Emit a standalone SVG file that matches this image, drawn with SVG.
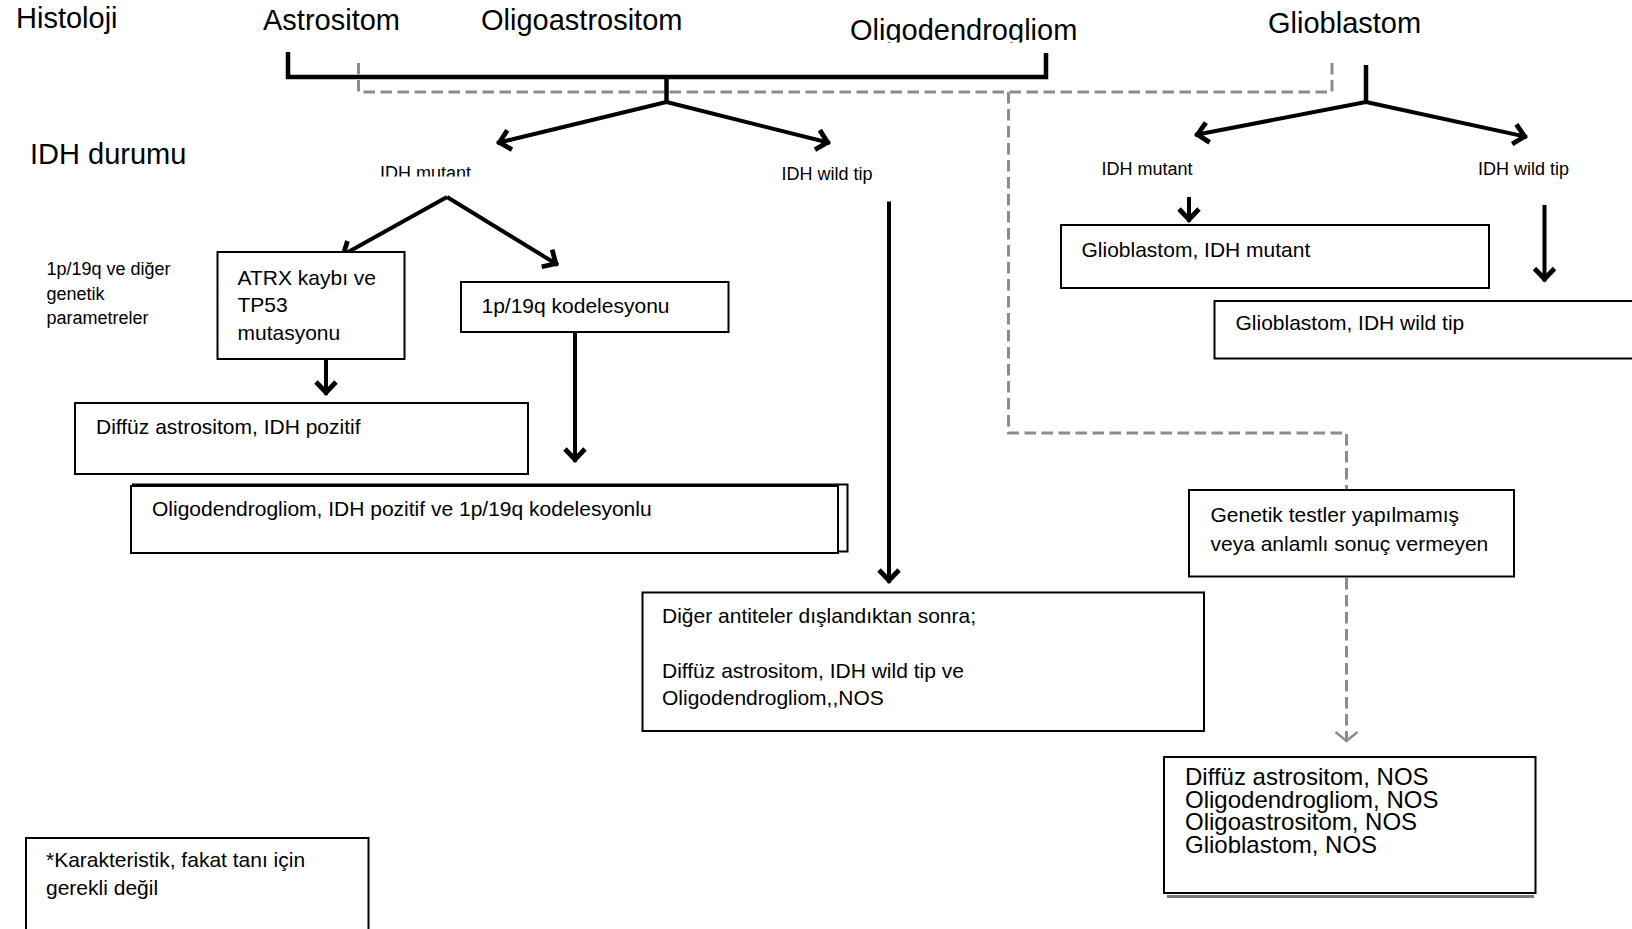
<svg xmlns="http://www.w3.org/2000/svg" width="1632" height="929" viewBox="0 0 1632 929">
<style>
text{font-family:"Liberation Sans",Arial,sans-serif;fill:#000}
.h{font-size:29px}
.s{font-size:18px}
.b{font-size:21px}
.n{font-size:24px}
.box{fill:#fff;stroke:#000;stroke-width:2}
.solid{fill:none;stroke:#000;stroke-width:4.5;stroke-linejoin:miter}
.arr{fill:none;stroke:#000;stroke-width:4;marker-end:url(#ah)}
.dash{fill:none;stroke:#8c8c8c;stroke-width:3;stroke-dasharray:11.5 5.5}
</style>
<defs>
<marker id="ah" viewBox="-16 -14 18 28" refX="0" refY="0" markerWidth="18" markerHeight="28" markerUnits="userSpaceOnUse" orient="auto">
<path d="M-13,-10 L-2.5,0 L-13,10" fill="none" stroke="#000" stroke-width="4.8"/>
</marker>
<marker id="gh" viewBox="-14 -13 16 26" refX="0" refY="0" markerWidth="16" markerHeight="26" markerUnits="userSpaceOnUse" orient="auto">
<path d="M-10,-11 L-1,0 L-10,11" fill="none" stroke="#8c8c8c" stroke-width="2.5"/>
</marker>
<clipPath id="cOli"><rect x="800" y="0" width="320" height="42.5"/></clipPath>
<clipPath id="cMut"><rect x="360" y="150" width="140" height="26.5"/></clipPath>
</defs>

<g id="labels">
<text class="h" x="16" y="28">Histoloji</text>
<text class="h" x="263" y="30">Astrositom</text>
<text class="h" x="481" y="30">Oligoastrositom</text>
<text class="h" x="850" y="40" clip-path="url(#cOli)">Oligodendrogliom</text>
<text class="h" x="1268" y="32.5">Glioblastom</text>
<text class="h" x="30" y="164">IDH durumu</text>
<text class="s" x="380" y="178.5" font-size="18.5" clip-path="url(#cMut)">IDH mutant</text>
<text class="s" x="781.5" y="180">IDH wild tip</text>
<text class="s" x="1101.5" y="175">IDH mutant</text>
<text class="s" x="1478" y="175">IDH wild tip</text>
<text class="s" x="46.5" y="275" font-size="18.5">1p/19q ve diğer</text>
<text class="s" x="46.5" y="300" font-size="18.5">genetik</text>
<text class="s" x="46.5" y="324" font-size="18.5">parametreler</text>
</g>

<g id="connectors">
<path class="solid" d="M288,52 L288,77 L1046,77 L1046,53"/>
<path class="solid" d="M666.5,77 L666.5,102"/>
<path class="arr" d="M666.5,102 L497,143"/>
<path class="arr" d="M666.5,102 L830,143"/>
<path class="solid" d="M1366,65 L1366,102"/>
<path class="arr" d="M1366,102 L1195,135"/>
<path class="arr" d="M1366,102 L1527,137"/>
<path class="arr" d="M447,197 L341,256"/>
<path class="arr" d="M447,197 L558,265"/>
<path class="arr" d="M326,359 L326,395"/>
<path class="arr" d="M575,332 L575,462"/>
<path class="arr" d="M889,201.5 L889,583"/>
<path class="arr" d="M1189,197 L1189,222"/>
<path class="arr" d="M1544.5,205 L1544.5,281.5"/>
<path class="dash" d="M358.5,63 L358.5,92 L1332,92 L1332,63"/>
<path class="dash" d="M1008.5,92 L1008.5,433 L1346.5,433 L1346.5,490"/>
<path class="dash" d="M1346.5,578 L1346.5,742" marker-end="url(#gh)"/>
</g>

<g id="atrx">
<rect class="box" x="217.5" y="252" width="187" height="107"/>
<text class="b" x="237.5" y="284.5">ATRX kaybı ve</text>
<text class="b" x="237.5" y="312">TP53</text>
<text class="b" x="237.5" y="339.5">mutasyonu</text>
</g>

<g id="kodelesyon">
<rect class="box" x="461" y="282" width="267.5" height="50"/>
<text class="b" x="481.5" y="313">1p/19q kodelesyonu</text>
</g>

<g id="diffuz-pozitif">
<rect class="box" x="75" y="403" width="453" height="71"/>
<text class="b" x="96" y="434">Diffüz astrositom, IDH pozitif</text>
</g>

<g id="oligo-kodelesyonlu">
<rect class="box" x="133" y="484.5" width="714.5" height="67"/>
<rect class="box" x="131" y="486" width="707" height="67"/>
<text class="b" x="152" y="516">Oligodendrogliom, IDH pozitif ve 1p/19q kodelesyonlu</text>
</g>

<g id="wildtip-sonuc">
<rect class="box" x="642.5" y="592.5" width="561.5" height="138.5"/>
<text class="b" x="662" y="623">Diğer antiteler dışlandıktan sonra;</text>
<text class="b" x="662" y="677.5">Diffüz astrositom, IDH wild tip ve</text>
<text class="b" x="662" y="705">Oligodendrogliom,,NOS</text>
</g>

<g id="glio-mutant">
<rect class="box" x="1061" y="225" width="428" height="63"/>
<text class="b" x="1081.5" y="256.5">Glioblastom, IDH mutant</text>
</g>

<g id="glio-wildtip">
<rect class="box" x="1214.5" y="301" width="500" height="57.5"/>
<text class="b" x="1235.5" y="330">Glioblastom, IDH wild tip</text>
</g>

<g id="genetik">
<rect class="box" x="1189" y="490" width="325" height="86.5"/>
<text class="b" x="1210.5" y="521.5">Genetik testler yapılmamış</text>
<text class="b" x="1210.5" y="550.5">veya anlamlı sonuç vermeyen</text>
</g>

<g id="nos">
<line x1="1167" y1="896.5" x2="1534" y2="896.5" stroke="#7a7a7a" stroke-width="3"/>
<rect class="box" x="1164" y="757" width="371.5" height="136"/>
<text class="n" x="1185" y="785">Diffüz astrositom, NOS</text>
<text class="n" x="1185" y="807.5">Oligodendrogliom, NOS</text>
<text class="n" x="1185" y="830">Oligoastrositom, NOS</text>
<text class="n" x="1185" y="852.5">Glioblastom, NOS</text>
</g>

<g id="footnote">
<rect class="box" x="26" y="838" width="342.5" height="120"/>
<text class="b" x="46" y="867">*Karakteristik, fakat tanı için</text>
<text class="b" x="46" y="895">gerekli değil</text>
</g>
</svg>
